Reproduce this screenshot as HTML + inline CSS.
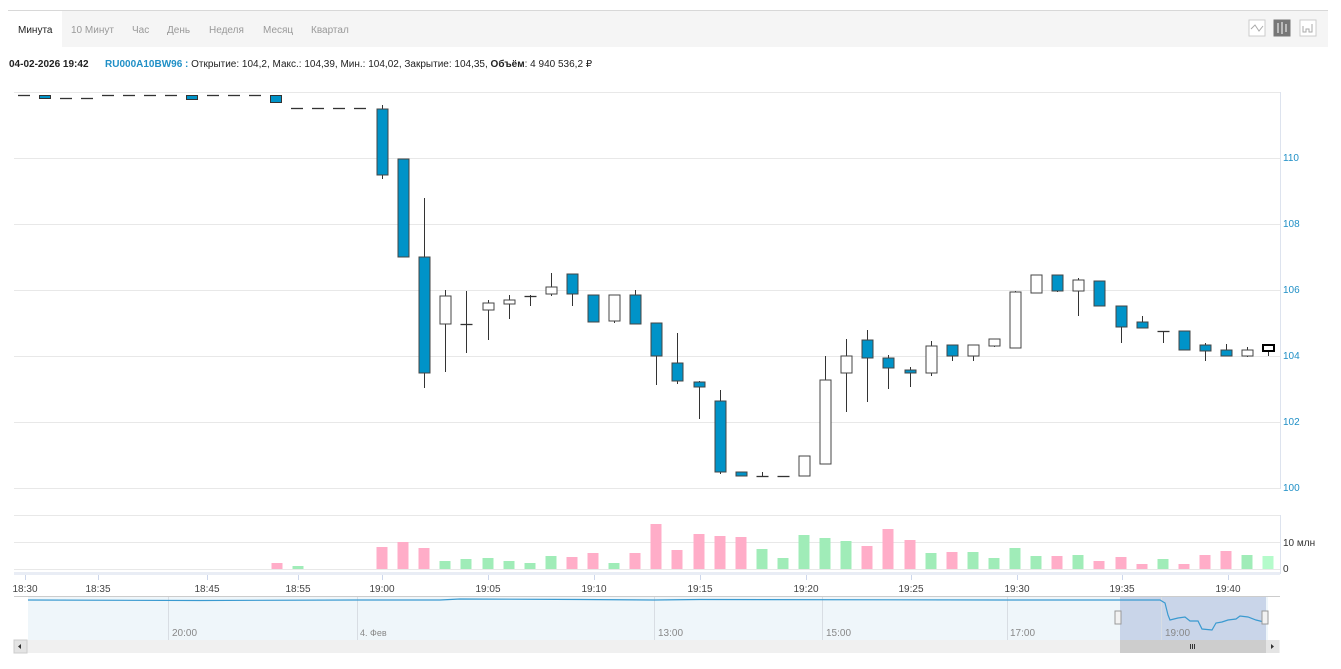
<!DOCTYPE html>
<html><head><meta charset="utf-8">
<style>
body{margin:0;background:#fff;width:1341px;height:669px;overflow:hidden;font-family:"Liberation Sans","DejaVu Sans",sans-serif;}
svg{position:absolute;left:0;top:0}
</style></head><body>
<svg id="s" width="1341" height="669" xmlns="http://www.w3.org/2000/svg" font-family="Liberation Sans, DejaVu Sans, sans-serif">
<rect x="8" y="10" width="1320" height="37" fill="#f5f5f5"/>
<line x1="8" y1="10.5" x2="1328" y2="10.5" stroke="#d8d8d8"/>
<rect x="8" y="11" width="54" height="36" fill="#fff"/>
<g font-size="10" fill="#999">
<text x="18" y="33" fill="#222">Минута</text>
<text x="71" y="33">10 Минут</text>
<text x="132" y="33">Час</text>
<text x="167" y="33">День</text>
<text x="209" y="33">Неделя</text>
<text x="263" y="33">Месяц</text>
<text x="311" y="33">Квартал</text>
</g>
<rect x="1249" y="20" width="16" height="16" fill="#fff" stroke="#ccc"/>
<polyline points="1251,29 1255,25 1259,31 1263,26" fill="none" stroke="#aaa"/>
<rect x="1274" y="20" width="16" height="16" fill="#777" stroke="#777"/>
<g stroke="#fff"><line x1="1278" y1="23" x2="1278" y2="33"/><line x1="1282" y1="22" x2="1282" y2="34"/><line x1="1286" y1="24" x2="1286" y2="32"/></g>
<rect x="1300" y="20" width="16" height="16" fill="#fff" stroke="#ccc"/>
<polyline points="1303,26 1303,32 1306,32 1306,29 1309,29 1309,32 1312,32 1312,24" fill="none" stroke="#aaa"/>
<text x="9" y="67" font-size="10" font-weight="bold" fill="#222">04-02-2026 19:42</text>
<text x="105" y="67" font-size="10" fill="#222"><tspan font-weight="bold" fill="#1f8fc6">RU000A10BW96 :</tspan> Открытие: 104,2, Макс.: 104,39, Мин.: 104,02, Закрытие: 104,35, <tspan font-weight="bold">Объём</tspan>: 4 940 536,2 ₽</text>
<g stroke="#e8e8e8">
<line x1="14" y1="92.5" x2="1280" y2="92.5"/>
<line x1="14" y1="158.5" x2="1280" y2="158.5"/>
<line x1="14" y1="224.5" x2="1280" y2="224.5"/>
<line x1="14" y1="290.5" x2="1280" y2="290.5"/>
<line x1="14" y1="356.5" x2="1280" y2="356.5"/>
<line x1="14" y1="422.5" x2="1280" y2="422.5"/>
<line x1="14" y1="488.5" x2="1280" y2="488.5"/>
<line x1="14" y1="515.5" x2="1280" y2="515.5"/>
<line x1="14" y1="542.5" x2="1280" y2="542.5"/>
<line x1="14" y1="569.5" x2="1280" y2="569.5"/>
</g>
<line x1="1280.5" y1="92" x2="1280.5" y2="489" stroke="#dde3ee"/>
<line x1="1280.5" y1="515" x2="1280.5" y2="574" stroke="#dde3ee"/>
<g font-size="10" fill="#1f8fc6">
<text x="1283" y="161">110</text><text x="1283" y="227">108</text><text x="1283" y="293">106</text>
<text x="1283" y="359">104</text><text x="1283" y="425">102</text><text x="1283" y="491">100</text>
</g>
<g font-size="10" fill="#333"><text x="1283" y="546">10 млн</text><text x="1283" y="572">0</text></g>
<rect x="14" y="572" width="1266" height="3" fill="#e9edf5"/>
<g id="xt" stroke="#ccd6eb"></g>
<g font-size="10" fill="#444" text-anchor="middle">
<text x="25" y="592">18:30</text><text x="98" y="592">18:35</text><text x="207" y="592">18:45</text>
<text x="298" y="592">18:55</text><text x="382" y="592">19:00</text><text x="488" y="592">19:05</text>
<text x="594" y="592">19:10</text><text x="700" y="592">19:15</text><text x="806" y="592">19:20</text>
<text x="911" y="592">19:25</text><text x="1017" y="592">19:30</text><text x="1122" y="592">19:35</text><text x="1228" y="592">19:40</text>
</g>
<line x1="14" y1="596.5" x2="1280" y2="596.5" stroke="#ccc"/>
<rect x="28" y="597" width="1240" height="43" fill="#eff6fa"/>
<rect x="1120" y="597" width="146" height="43" fill="#c9d5e9"/>
<g stroke="#d8dde3"><line x1="168.5" y1="597" x2="168.5" y2="640"/><line x1="357.5" y1="597" x2="357.5" y2="640"/><line x1="654.5" y1="597" x2="654.5" y2="640"/><line x1="822.5" y1="597" x2="822.5" y2="640"/><line x1="1007.5" y1="597" x2="1007.5" y2="640"/><line x1="1161.5" y1="597" x2="1161.5" y2="640"/></g>
<polyline fill="none" stroke="#3a9ad0" stroke-width="1.2" points="28,600 200,600.5 356,600 360,600 440,600 460,599 580,599.5 654,600 700,599.5 1000,600 1160,600 1165,603 1168,615 1170,620 1178,618 1185,617 1190,621 1198,621 1202,629 1212,630 1216,623 1222,622 1228,620 1236,619 1240,616 1248,617 1256,620 1264,622"/>
<g font-size="10" fill="#888"><text x="172" y="636">20:00</text><text x="360" y="636" font-size="9">4. Фев</text><text x="658" y="636">13:00</text><text x="826" y="636">15:00</text><text x="1010" y="636">17:00</text><text x="1165" y="636">19:00</text></g>
<rect x="1115" y="611" width="6" height="13" fill="#f2f2f2" stroke="#999"/>
<rect x="1262" y="611" width="6" height="13" fill="#f2f2f2" stroke="#999"/>
<rect x="14" y="640" width="1266" height="13" fill="#f0f0f0"/>
<rect x="14" y="640" width="13" height="13" fill="#e4e4e4" stroke="#ccc"/>
<path d="M18,646.5 L21,644 L21,649z" fill="#333"/>
<rect x="1120" y="640" width="146" height="13" fill="#cdcdcd"/>
<rect x="1266" y="640" width="13" height="13" fill="#e4e4e4"/>
<path d="M1274,646.5 L1271,644 L1271,649z" fill="#333"/>
<g stroke="#333"><line x1="1190.5" y1="644" x2="1190.5" y2="649"/><line x1="1192.5" y1="644" x2="1192.5" y2="649"/><line x1="1194.5" y1="644" x2="1194.5" y2="649"/></g>
<g id="vol"></g>
<g id="c"></g>
</svg>
<script>
var NS="http://www.w3.org/2000/svg";
function el(p,t,a){var e=document.createElementNS(NS,t);for(var k in a)e.setAttribute(k,a[k]);document.getElementById(p).appendChild(e);}
[25,98,207,298,382,488,594,700,806,911,1017,1122,1228].forEach(function(x){el("xt","line",{x1:x+.5,y1:575,x2:x+.5,y2:580});});
var pre=[[24,95,95,'d'],[45,95,98,'b'],[66,98,98,'d'],[87,98,98,'d'],[108,95,95,'d'],[129,95,95,'d'],[150,95,95,'d'],[171,95,95,'d'],[192,95,99,'b'],[213,95,95,'d'],[234,95,95,'d'],[255,95,95,'d'],[276,95,102,'b'],[297,108,108,'d'],[318,108,108,'d'],[339,108,108,'d'],[360,108,108,'d']];
pre.forEach(function(p){
 if(p[3]=='d')el("c","line",{x1:p[0]-6,x2:p[0]+6,y1:p[1]+.5,y2:p[1]+.5,stroke:"#333","stroke-width":1.3});
 else el("c","rect",{x:p[0]-5.5,y:p[1]+.5,width:11,height:p[2]-p[1],fill:"#0093c8",stroke:"#333"});
});
var C=[[0,109,175,105,179,1],[1,159,257,159,257,1],[2,257,373,198,388,1],[3,296,324,290,372,0],[4,324,324,291,353,2],[5,303,310,300,340,0],[6,300,304,295,319,0],[7,296,296,295,306,2],[8,287,294,273,296,0],[9,274,294,274,306,1],[10,295,322,295,322,1],[11,295,321,295,323,0],[12,295,324,290,324,1],[13,323,356,323,385,1],[14,363,381,333,384,1],[15,382,387,381,419,1],[16,401,472,390,474,1],[17,472,476,472,476,1],[18,476,476,472,476,2],[19,476,476,476,476,2],[20,456,476,456,476,0],[21,380,464,356,464,0],[22,356,373,339,412,0],[23,340,358,330,402,1],[24,358,368,355,389,1],[25,370,373,367,387,1],[26,346,373,341,376,0],[27,345,356,345,361,1],[28,345,356,345,361,0],[29,339,346,339,347,0],[30,292,348,291,348,0],[31,275,293,275,293,0],[32,275,291,275,292,1],[33,280,291,278,316,0],[34,281,306,281,306,1],[35,306,327,306,343,1],[36,322,328,316,328,1],[37,331,331,331,343,2],[38,331,350,331,350,1],[39,345,351,343,361,1],[40,350,356,344,356,1],[41,350,356,347,357,0],[42,345,351,344,356,3]];
C.forEach(function(c){
 var x=Math.round(382+21.1*c[0])+.5;
 if(c[3]<c[1]||c[4]>c[2])el("c","line",{x1:x,x2:x,y1:c[3],y2:c[4],stroke:"#333"});
 if(c[5]==2)el("c","line",{x1:x-6,x2:x+6,y1:c[1]+.5,y2:c[1]+.5,stroke:"#333","stroke-width":1.3});
 else el("c","rect",{x:x-5.5,y:c[1],width:11,height:Math.max(c[2]-c[1],2),fill:c[5]==1?"#0093c8":"#fff",stroke:c[5]==3?"#000":"#444","stroke-width":c[5]==3?2:1});
});
var P="#ffadc8",G="#a0ecb8";
var V=[[277,563,P],[298,566,G]];
var vm=[[0,547,P],[1,542,P],[2,548,P],[3,561,G],[4,559,G],[5,558,G],[6,561,G],[7,563,G],[8,556,G],[9,557,P],[10,553,P],[11,563,G],[12,553,P],[13,524,P],[14,550,P],[15,534,P],[16,536,P],[17,537,P],[18,549,G],[19,558,G],[20,535,G],[21,538,G],[22,541,G],[23,546,P],[24,529,P],[25,540,P],[26,553,G],[27,552,P],[28,552,G],[29,558,G],[30,548,G],[31,556,G],[32,556,P],[33,555,G],[34,561,P],[35,557,P],[36,564,P],[37,559,G],[38,564,P],[39,555,P],[40,551,P],[41,555,G],[42,556,"#b5fbcb"]];
vm.forEach(function(v){V.push([Math.round(382+21.1*v[0]),v[1],v[2]]);});
V.forEach(function(v){el("vol","rect",{x:v[0]-5.5,y:v[1],width:11,height:569-v[1],fill:v[2]});});
</script>
</body></html>
